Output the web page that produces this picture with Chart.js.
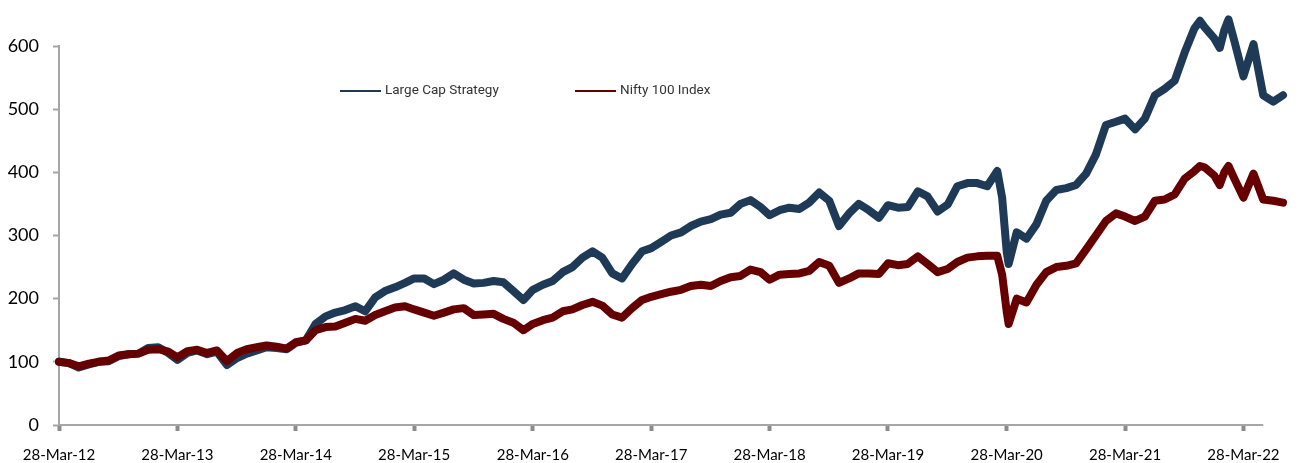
<!DOCTYPE html>
<html>
<head>
<meta charset="utf-8">
<script src="https://cdn.jsdelivr.net/npm/chart.js@4/dist/chart.umd.min.js"></script>
<style>
  html, body { margin: 0; padding: 0; background: #fff; }
  #wrap { width: 1301px; height: 463px; position: relative; }
</style>
</head>
<body>
<div id="wrap"><canvas id="myChart"></canvas></div>
<script>
// monthly readings, with a few extra points round the sharp moves
var dates = [
  '2012-03-28','2012-04-28','2012-05-28','2012-06-28','2012-07-28','2012-08-28','2012-09-28','2012-10-28','2012-11-28','2012-12-28',
  '2013-01-28','2013-02-28','2013-03-28','2013-04-28','2013-05-28','2013-06-28','2013-07-28','2013-08-28','2013-09-28','2013-10-28','2013-11-28','2013-12-28',
  '2014-01-28','2014-02-28','2014-03-28','2014-04-28','2014-05-28','2014-06-28','2014-07-28','2014-08-28','2014-09-28','2014-10-28','2014-11-28','2014-12-28',
  '2015-01-28','2015-02-28','2015-03-28','2015-04-28','2015-05-28','2015-06-28','2015-07-28','2015-08-28','2015-09-28','2015-10-28','2015-11-28','2015-12-28',
  '2016-01-28','2016-02-28','2016-03-28','2016-04-28','2016-05-28','2016-06-28','2016-07-28','2016-08-28','2016-09-28','2016-10-28','2016-11-28','2016-12-28',
  '2017-01-28','2017-02-28','2017-03-28','2017-04-28','2017-05-28','2017-06-28','2017-07-28','2017-08-28','2017-09-28','2017-10-28','2017-11-28','2017-12-28',
  '2018-01-28','2018-02-28','2018-03-28','2018-04-28','2018-05-28','2018-06-28','2018-07-28','2018-08-28','2018-09-28','2018-10-28','2018-11-28','2018-12-28',
  '2019-01-28','2019-02-28','2019-03-28','2019-04-28','2019-05-28','2019-06-28','2019-07-28','2019-08-28','2019-09-28','2019-10-28','2019-11-28','2019-12-28',
  '2020-01-28','2020-02-28','2020-03-14','2020-03-28','2020-04-03','2020-04-28','2020-05-28','2020-06-28','2020-07-28','2020-08-28','2020-09-28','2020-10-28','2020-11-28','2020-12-28',
  '2021-01-28','2021-02-28','2021-03-28','2021-04-28','2021-05-28','2021-06-28','2021-07-28','2021-08-28','2021-09-28','2021-10-28','2021-11-14','2021-11-28','2021-12-28',
  '2022-01-14','2022-01-28','2022-02-10','2022-02-28','2022-03-28','2022-04-28','2022-05-28','2022-06-28','2022-07-28'
];

var largeCap = [
  100, 98, 91, 96, 100, 101, 109, 112, 113, 122,
  123, 114, 103, 114, 118, 112, 116, 95, 106, 113, 118, 123,
  122, 120, 130, 134, 160, 172, 178, 182, 188, 180, 202, 212,
  218, 225, 232, 232, 223, 230, 240, 230, 224, 225, 228, 226,
  212, 198, 214, 222, 228, 242, 250, 265, 275, 265, 240, 232,
  255, 275, 280, 290, 300, 305, 315, 322, 326, 333, 336, 350,
  356, 345, 332, 340, 344, 342, 352, 368, 355, 315, 335, 350,
  340, 328, 348, 344, 345, 370, 362, 338, 349, 378, 383, 383,
  378, 402, 360, 275, 255, 305, 295, 318, 355, 372, 375, 380, 398, 428,
  475, 480, 485, 468, 485, 522, 532, 545, 590, 628, 640, 630, 612,
  597, 625, 642, 608, 552, 603, 522, 512, 522
];

var nifty100 = [
  100, 98, 93, 97, 100, 102, 110, 112, 113, 119,
  120, 116, 107, 117, 119, 114, 118, 101, 114, 120, 123, 126,
  124, 121, 131, 134, 150, 155, 156, 162, 168, 165, 174, 180,
  186, 188, 183, 178, 173, 178, 183, 185, 174, 175, 176, 168,
  162, 150, 160, 166, 170, 180, 183, 190, 195, 189, 175, 170,
  185, 198, 203, 207, 211, 214, 220, 222, 220, 228, 234, 236,
  246, 242, 230, 238, 239, 240, 244, 258, 252, 225, 232, 240,
  240, 239, 256, 253, 255, 267, 255, 242, 247, 258, 265, 267,
  268, 268, 238, 180, 160, 200, 194, 222, 242, 250, 252, 256, 278, 300,
  323, 335, 330, 323, 330, 355, 357, 365, 390, 402, 410, 408, 395,
  380, 400, 410, 390, 360, 398, 357, 355, 352
];

var tickDates = ['2012-03-28','2013-03-28','2014-03-28','2015-03-28','2016-03-28','2017-03-28',
                 '2018-03-28','2019-03-28','2020-03-28','2021-03-28','2022-03-28'];
var tickLabels = ['28-Mar-12','28-Mar-13','28-Mar-14','28-Mar-15','28-Mar-16','28-Mar-17',
                  '28-Mar-18','28-Mar-19','28-Mar-20','28-Mar-21','28-Mar-22'];
var axisEnd = '2022-05-28';

function dayNo(d){
  return (Date.parse(d) - Date.parse(dates[0])) / 86400000;
}

var stratPts = [], niftyPts = [];
for (var i=0;i<dates.length;i++){
  stratPts.push({x: dayNo(dates[i]), y: largeCap[i]});
  niftyPts.push({x: dayNo(dates[i]), y: nifty100[i]});
}

var blue = '#1f3a56';
var red = '#660000';

var extras = {
  id: 'extras',
  beforeDatasetsDraw: function(chart){
    var ctx = chart.ctx, a = chart.chartArea, xs = chart.scales.x;
    ctx.save();
    ctx.strokeStyle = '#a6a6a6';
    ctx.lineWidth = 2;
    ctx.beginPath();
    ctx.moveTo(a.left, a.bottom);
    ctx.lineTo(xs.getPixelForValue(dayNo(axisEnd)), a.bottom);
    ctx.stroke();
    ctx.restore();
  },
  afterDraw: function(chart){
    var ctx = chart.ctx;
    var items = [
      {x: 340, color: blue, text: chart.data.datasets[0].label},
      {x: 575, color: red, text: chart.data.datasets[1].label}
    ];
    ctx.save();
    ctx.font = '13.5px Roboto';
    ctx.textBaseline = 'middle';
    ctx.fillStyle = '#333333';
    items.forEach(function(it){
      ctx.strokeStyle = it.color;
      ctx.lineWidth = 2;
      ctx.beginPath();
      ctx.moveTo(it.x, 91);
      ctx.lineTo(it.x + 41, 91);
      ctx.stroke();
      ctx.fillText(it.text, it.x + 45, 91);
    });
    ctx.restore();
  }
};

var ctx = document.getElementById('myChart').getContext('2d');
var myLineChart = new Chart(ctx, {
  type: 'line',
  data: {
    datasets: [{
      label: 'Large Cap Strategy',
      data: stratPts,
      borderColor: blue,
      backgroundColor: blue,
      borderWidth: 8,
      pointRadius: 0,
      borderJoinStyle: 'round',
      borderCapStyle: 'round',
      clip: false,
      order: 1
    },{
      label: 'Nifty 100 Index',
      data: niftyPts,
      borderColor: red,
      backgroundColor: red,
      borderWidth: 8,
      pointRadius: 0,
      borderJoinStyle: 'round',
      borderCapStyle: 'round',
      clip: false,
      order: 0
    }]
  },
  options: {
    responsive: true,
    maintainAspectRatio: false,
    animation: false,
    layout: { padding: { top: 46, right: 18, left: 0, bottom: 0 } },
    plugins: { legend: { display: false }, tooltip: { enabled: false } },
    scales: {
      x: {
        type: 'linear',
        min: 0,
        max: dayNo(dates[dates.length-1]),
        border: { display: false },
        grid: { drawOnChartArea: false, drawTicks: true, tickLength: 6, tickWidth: 4, tickColor: '#8c8c8c' },
        afterBuildTicks: function(s){
          s.ticks = tickDates.map(function(d){ return {value: dayNo(d)}; });
        },
        afterFit: function(s){ s.height = 38; },
        ticks: {
          autoSkip: false,
          maxRotation: 0,
          padding: 15,
          color: '#000',
          font: { family: 'Lato', size: 15 },
          callback: function(v, i){ return tickLabels[i]; }
        }
      },
      y: {
        min: 0,
        max: 600,
        border: { display: true, color: '#a6a6a6', width: 2 },
        grid: { drawOnChartArea: false, drawTicks: true, tickLength: 6, tickColor: '#a6a6a6', tickWidth: 2 },
        afterFit: function(s){ s.width = 59; },
        ticks: {
          stepSize: 100,
          padding: 14,
          color: '#000',
          font: { family: 'Lato', size: 18 }
        }
      }
    }
  },
  plugins: [extras]
});
</script>
</body>
</html>
